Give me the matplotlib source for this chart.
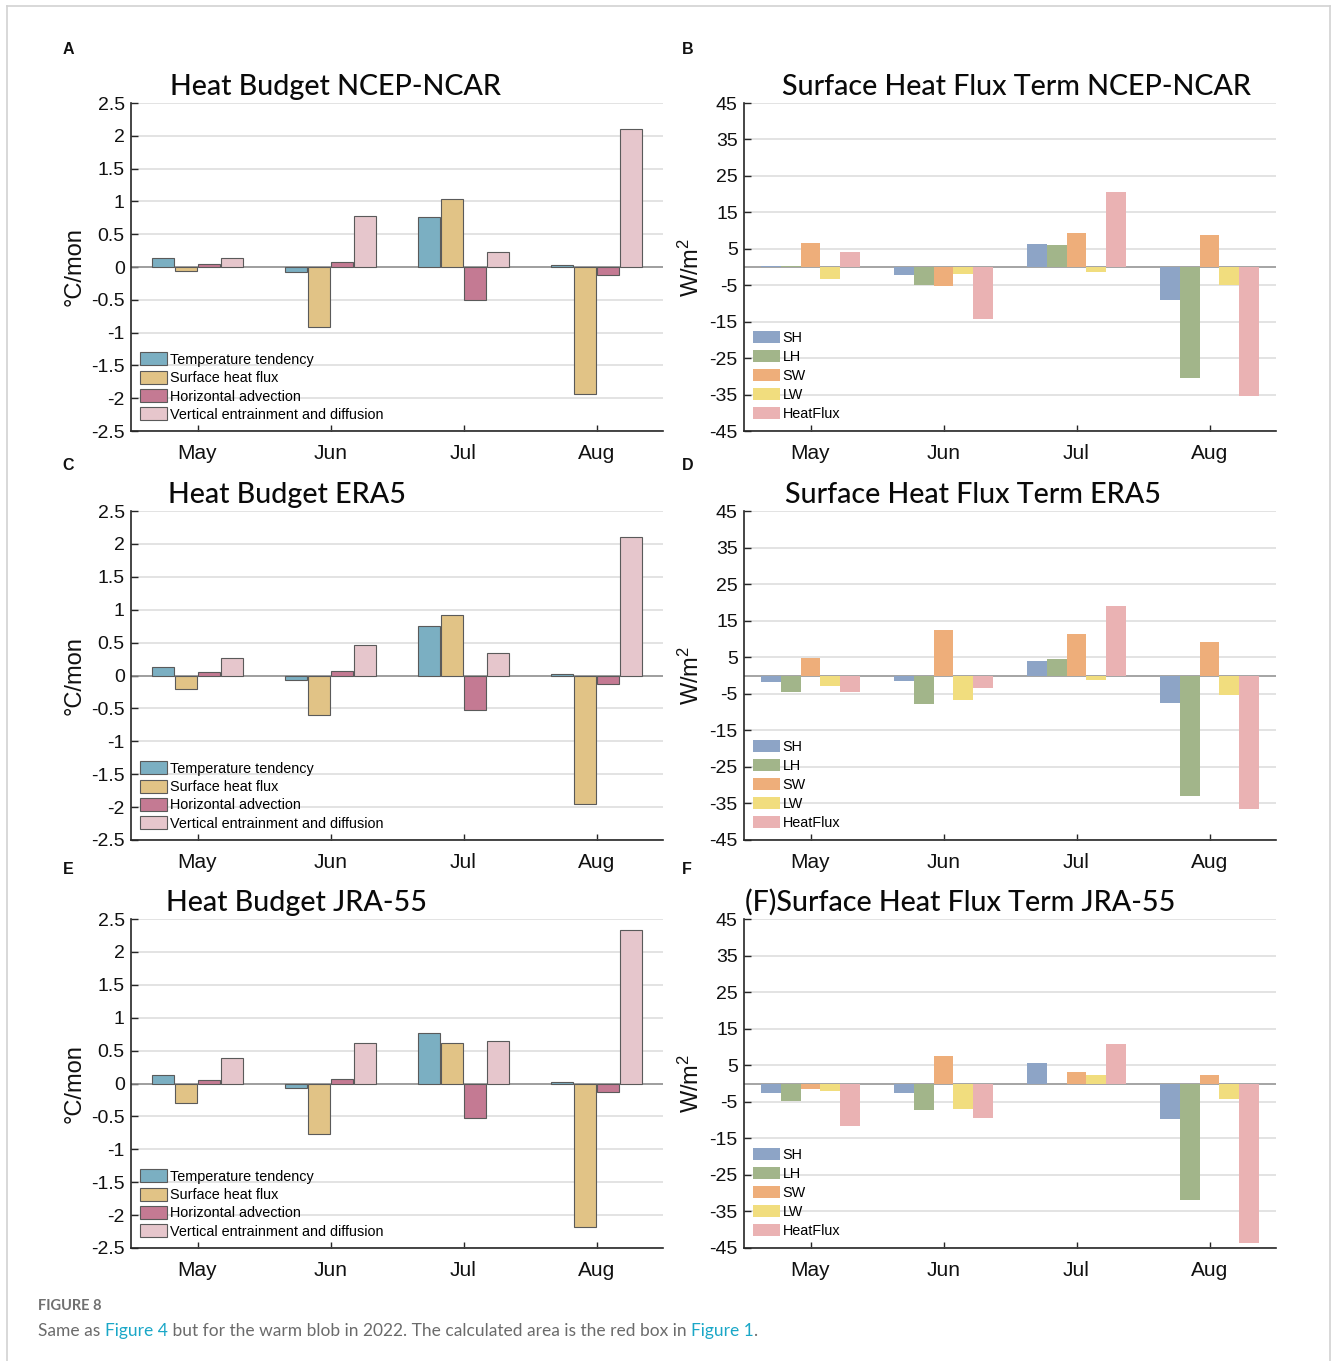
import numpy as np
import matplotlib
matplotlib.use("Agg")
import matplotlib.pyplot as plt
from matplotlib.lines import Line2D

plt.rcParams['font.family'] = ['Liberation Sans', 'DejaVu Sans']
plt.rcParams['mathtext.fontset'] = 'custom'
plt.rcParams['mathtext.rm'] = 'Liberation Sans'
plt.rcParams['mathtext.default'] = 'regular'

months = ['May', 'Jun', 'Jul', 'Aug']

# mixed-layer heat budget terms (degC/month)
budget_names = ['Temperature tendency', 'Surface heat flux',
                'Horizontal advection', 'Vertical entrainment and diffusion']
ncep_tt = [0.13, -0.07, 0.76, 0.035]
ncep_shf = [-0.06, -0.92, 1.04, -1.94]
ncep_ha = [0.05, 0.07, -0.51, -0.12]
ncep_ved = [0.14, 0.78, 0.23, 2.10]

era5_tt = [0.13, -0.07, 0.75, 0.03]
era5_shf = [-0.20, -0.60, 0.92, -1.96]
era5_ha = [0.05, 0.07, -0.52, -0.13]
era5_ved = [0.26, 0.46, 0.34, 2.11]

jra_tt = [0.13, -0.07, 0.76, 0.03]
jra_shf = [-0.30, -0.76, 0.62, -2.18]
jra_ha = [0.05, 0.07, -0.52, -0.13]
jra_ved = [0.38, 0.61, 0.65, 2.34]

# surface heat flux components (W/m2)
flux_names = ['SH', 'LH', 'SW', 'LW', 'HeatFlux']
ncep_sh = [0.2, -2.1, 6.2, -9.1]
ncep_lh = [0.3, -5.0, 6.1, -30.4]
ncep_sw = [6.7, -5.3, 9.4, 8.9]
ncep_lw = [-3.3, -1.9, -1.4, -5.0]
ncep_hf = [4.1, -14.2, 20.5, -35.4]

era5_sh = [-1.8, -1.5, 3.9, -7.4]
era5_lh = [-4.6, -7.7, 4.5, -33.1]
era5_sw = [4.8, 12.5, 11.3, 9.1]
era5_lw = [-3.0, -6.8, -1.1, -5.2]
era5_hf = [-4.5, -3.5, 18.9, -36.5]

jra_sh = [-2.7, -2.5, 5.6, -9.6]
jra_lh = [-4.9, -7.3, 0.0, -32.0]
jra_sw = [-1.6, 7.4, 3.1, 2.3]
jra_lw = [-2.1, -6.9, 2.3, -4.2]
jra_hf = [-11.6, -9.5, 10.9, -43.7]

budget_colors = ['#7bafc2', '#e1c386', '#c47a93', '#e6c6cc']
flux_colors = ['#8da4c6', '#a2b58a', '#eeae7a', '#f1dd7e', '#eab2b3']

W, H = 1331, 1361
fig = plt.figure(figsize=(W / 100, H / 100), dpi=100)


def px_axes(x0, y0, x1, y1):
    return fig.add_axes([x0 / W, 1 - y1 / H, (x1 - x0) / W, (y1 - y0) / H])


def style_axes(ax, ticks, ylabel, label_x):
    ax.set_xlim(0.5, 4.5)
    ax.set_ylim(ticks[0], ticks[-1])
    ax.set_yticks(ticks)
    ax.set_yticklabels(['%g' % t for t in ticks])
    ax.set_xticks(np.arange(1, 5))
    ax.set_xticklabels(months)
    for s in ['top', 'right']:
        ax.spines[s].set_visible(False)
    for s in ['left', 'bottom']:
        ax.spines[s].set_color('#262626')
        ax.spines[s].set_linewidth(1.2)
    ax.tick_params(axis='y', direction='in', length=5, width=1, color='#262626',
                   labelsize=14, pad=4.5, labelcolor='#111111')
    ax.tick_params(axis='x', direction='in', length=4, width=1, color='#262626',
                   labelsize=15, pad=9, labelcolor='#111111')
    ax.yaxis.grid(True, color='#e1e1e1', lw=1.3)
    ax.set_axisbelow(True)
    ax.axhline(0, color='#8c8c8c', lw=1.1, zorder=1.5)
    ax.set_ylabel(ylabel, fontsize=17, color='#111111')
    ax.yaxis.set_label_coords(label_x, 0.5)


def budget_panel(ax, series):
    x = np.arange(1, 5)
    step = 0.175
    for i, vals in enumerate(series):
        ax.bar(x + (i - 1.5) * step, vals, width=0.165, color=budget_colors[i],
               edgecolor='#5a5a5a', linewidth=0.8, label=budget_names[i], zorder=2)
    style_axes(ax, np.arange(-2.5, 2.51, 0.5), '°C/mon', -0.086)
    ax.legend(loc='lower left', bbox_to_anchor=(0.017, 0.028), frameon=False,
              fontsize=10.4, handlelength=1.9, handleheight=1.0,
              handletextpad=0.2, labelspacing=0.27, borderpad=0, borderaxespad=0)


def flux_panel(ax, series):
    x = np.arange(1, 5)
    step = 0.148
    for i, vals in enumerate(series):
        ax.bar(x + (i - 2) * step, vals, width=step, color=flux_colors[i],
               edgecolor='none', label=flux_names[i], zorder=2)
    style_axes(ax, np.arange(-45, 46, 10), r'W/m$^2$', -0.075)
    ax.legend(loc='lower left', bbox_to_anchor=(0.017, 0.03), frameon=False,
              fontsize=10.4, handlelength=1.85, handleheight=0.9,
              handletextpad=0.2, labelspacing=0.35, borderpad=0, borderaxespad=0)


axA = px_axes(131, 103, 663, 431)
axB = px_axes(744, 103, 1276, 431)
axC = px_axes(131, 511, 663, 840)
axD = px_axes(744, 511, 1276, 840)
axE = px_axes(131, 919, 663, 1248)
axF = px_axes(744, 919, 1276, 1248)

budget_panel(axA, [ncep_tt, ncep_shf, ncep_ha, ncep_ved])
flux_panel(axB, [ncep_sh, ncep_lh, ncep_sw, ncep_lw, ncep_hf])
budget_panel(axC, [era5_tt, era5_shf, era5_ha, era5_ved])
flux_panel(axD, [era5_sh, era5_lh, era5_sw, era5_lw, era5_hf])
budget_panel(axE, [jra_tt, jra_shf, jra_ha, jra_ved])
flux_panel(axF, [jra_sh, jra_lh, jra_sw, jra_lw, jra_hf])

# panel titles, left-aligned at their baseline
titles = [('Heat Budget NCEP-NCAR', 170, 95), ('Surface Heat Flux Term NCEP-NCAR', 782, 95),
          ('Heat Budget ERA5', 168, 503), ('Surface Heat Flux Term ERA5', 785, 503),
          ('Heat Budget JRA-55', 166, 911), ('(F)Surface Heat Flux Term JRA-55', 745, 911)]
for txt, tx, ty in titles:
    fig.text(tx / W, 1 - ty / H, txt, ha='left', va='baseline', fontsize=20.6,
             family=['Lato', 'DejaVu Sans'], color='#0a0a0a', fontweight='medium')

# panel letters
for lab, lx, ly in [('A', 68, 49), ('B', 688, 49), ('C', 68, 466),
                    ('D', 688, 466), ('E', 68, 869), ('F', 687, 869)]:
    fig.text(lx / W, 1 - ly / H, lab, ha='center', va='center', fontsize=11.5,
             fontweight='bold', color='#111111')

# frame around the figure
fig.add_artist(Line2D([7 / W, 7 / W], [0, 1 - 6 / H], color='#d2d2d2', lw=1.2))
fig.add_artist(Line2D([7 / W, 1330 / W], [1 - 6 / H, 1 - 6 / H], color='#d2d2d2', lw=1.2))
fig.add_artist(Line2D([1330 / W, 1330 / W], [0, 1 - 6 / H], color='#d2d2d2', lw=1.2))

# caption
fig.text(38 / W, 1 - 1306 / H, 'FIGURE 8', ha='left', va='center', fontsize=10.5,
         family=['Lato', 'DejaVu Sans'], color='#707070', fontweight='bold')
pieces = [('Same as ', '#6b6b6b'), ('Figure 4', '#1aa7c7'),
          (' but for the warm blob in 2022. The calculated area is the red box in ', '#6b6b6b'),
          ('Figure 1', '#1aa7c7'), ('.', '#6b6b6b')]
renderer = fig.canvas.get_renderer()
cx = 38
for txt, col in pieces:
    t = fig.text(cx / W, 1 - 1336 / H, txt, ha='left', va='baseline', fontsize=12.5,
                 family=['Lato', 'DejaVu Sans'], color=col)
    cx += t.get_window_extent(renderer=renderer).width

fig.savefig('out.png', dpi=100)
